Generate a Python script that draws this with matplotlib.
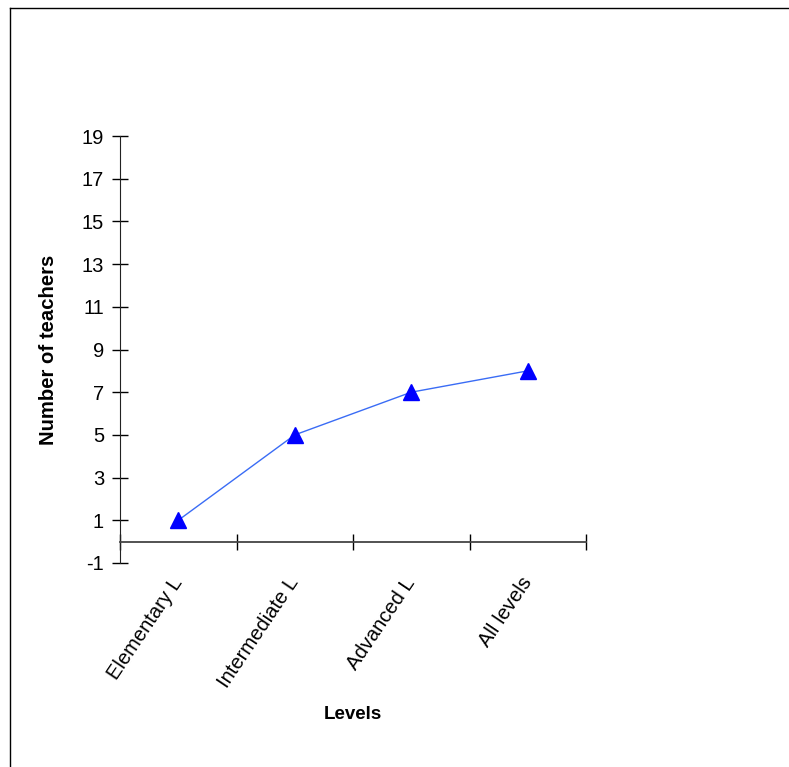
import matplotlib.pyplot as plt
from matplotlib.lines import Line2D

plt.rcParams['font.family'] = ['Liberation Sans', 'DejaVu Sans']
plt.rcParams['axes.unicode_minus'] = False

# ==================== data ====================
levels = ['Elementary L', 'Intermediate L', 'Advanced L', 'All levels']
teachers = [1, 5, 7, 8]
y_ticks = [-1, 1, 3, 5, 7, 9, 11, 13, 15, 17, 19]

# ==================== figure ====================
fig = plt.figure(figsize=(7.89, 7.67), dpi=100)
ax = fig.add_axes([120 / 789, 1 - 563 / 767, 466 / 789, 427 / 767])

x_pos = [i + 0.5 for i in range(len(levels))]
ax.plot(x_pos, teachers, color='#3a6cf5', lw=1, marker='^', markersize=11,
        markerfacecolor='#0000ff', markeredgecolor='#0000ff', zorder=3)

ax.set_xlim(0, len(levels))
ax.set_ylim(y_ticks[0], y_ticks[-1])

for s in ['top', 'right']:
    ax.spines[s].set_visible(False)
ax.spines['bottom'].set_position(('data', 0))
ax.spines['bottom'].set_color('#444444')
ax.spines['bottom'].set_linewidth(1.3)
ax.spines['left'].set_color('#222222')

ax.set_yticks(y_ticks)
ax.set_yticklabels([str(v) for v in y_ticks], fontsize=14.5)
ax.tick_params(axis='y', direction='inout', length=11, width=1, pad=6)

ax.set_xticks(range(len(levels) + 1))
ax.set_xticklabels([])
ax.set_xticks(x_pos, minor=True)
ax.set_xticklabels(levels, minor=True, fontsize=14.5, rotation=56,
                   ha='right', va='center', rotation_mode='anchor')
ax.tick_params(axis='x', which='major', direction='inout', length=11, width=1)
ax.tick_params(axis='x', which='minor', length=0, pad=27)

ax.set_ylabel('Number of teachers', fontsize=14.6, fontweight='bold')
ax.yaxis.set_label_coords(-0.132, 0.5)
ax.set_xlabel('Levels', fontsize=13.5, fontweight='bold')
ax.xaxis.set_label_coords(0.5, -0.335)

# outer frame of the chart area
fig.add_artist(Line2D([10 / 789, 1.0], [1 - 8 / 767, 1 - 8 / 767],
                      transform=fig.transFigure, color='black', lw=1))
fig.add_artist(Line2D([10 / 789, 10 / 789], [0.0, 1 - 8 / 767],
                      transform=fig.transFigure, color='black', lw=1))

plt.savefig('out.png', dpi=100)
plt.close()
